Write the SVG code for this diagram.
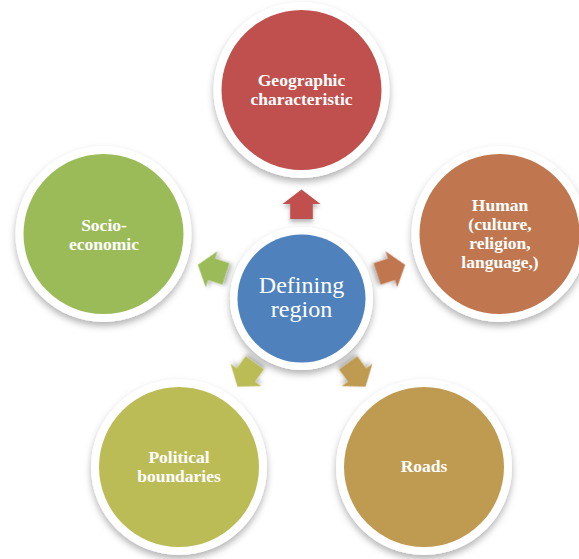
<svg xmlns="http://www.w3.org/2000/svg" width="579" height="559" viewBox="0 0 579 559">
<defs>
<filter id="sh" x="-20%" y="-20%" width="140%" height="150%">
<feDropShadow dx="0" dy="4" stdDeviation="3.5" flood-color="#000" flood-opacity="0.3"/>
</filter>
<filter id="ash" x="-40%" y="-40%" width="180%" height="180%">
<feDropShadow dx="0" dy="3" stdDeviation="2" flood-color="#000" flood-opacity="0.3"/>
</filter>
<path id="arr" d="M0,-109 L19,-94.5 L11.3,-94.5 L11.3,-79.5 L-11.3,-79.5 L-11.3,-94.5 L-19,-94.5 Z"/>
</defs>
<style>
.ring{fill:#fff;filter:url(#sh)}
.lbl{font-family:"Liberation Serif","Times New Roman",serif;font-weight:bold;font-size:17.5px;fill:#fff;text-anchor:middle}
.ctr{font-family:"Liberation Serif","Times New Roman",serif;font-size:24px;fill:#fff;text-anchor:middle}
</style>
<rect width="579" height="559" fill="#fff"/>
<g id="connectors" transform="translate(301.5,298.5)">
<use href="#arr" fill="#C0504D" filter="url(#ash)"/>
<use href="#arr" fill="#C0774F" filter="url(#ash)" transform="rotate(72)"/>
<use href="#arr" fill="#BF9B51" filter="url(#ash)" transform="rotate(144)"/>
<use href="#arr" fill="#BCBC56" filter="url(#ash)" transform="rotate(216)"/>
<use href="#arr" fill="#9BBB59" filter="url(#ash)" transform="rotate(288)"/>
</g>
<g id="node-geographic">
<circle class="ring" cx="301.5" cy="90" r="88"/>
<circle cx="301.5" cy="90" r="80" fill="#C0504D"/>
<text class="lbl" x="301.5" y="86">Geographic</text>
<text class="lbl" x="301.5" y="105">characteristic</text>
</g>
<g id="node-human">
<circle class="ring" cx="499.5" cy="234" r="88"/>
<circle cx="499.5" cy="234" r="80" fill="#C0774F"/>
<text class="lbl" x="500" y="211">Human</text>
<text class="lbl" x="500" y="230">(culture,</text>
<text class="lbl" x="500" y="249">religion,</text>
<text class="lbl" x="500" y="268">language,)</text>
</g>
<g id="node-roads">
<circle class="ring" cx="424" cy="467" r="88"/>
<circle cx="424" cy="467" r="80" fill="#BF9B51"/>
<text class="lbl" x="424" y="472">Roads</text>
</g>
<g id="node-political">
<circle class="ring" cx="179" cy="467" r="88"/>
<circle cx="179" cy="467" r="80" fill="#BCBC56"/>
<text class="lbl" x="179" y="463">Political</text>
<text class="lbl" x="179" y="482">boundaries</text>
</g>
<g id="node-socio">
<circle class="ring" cx="103.5" cy="234" r="88"/>
<circle cx="103.5" cy="234" r="80" fill="#9BBB59"/>
<text class="lbl" x="104" y="231">Socio-</text>
<text class="lbl" x="104" y="250">economic</text>
</g>
<g id="node-center">
<circle class="ring" cx="301.5" cy="298.5" r="71.5"/>
<circle cx="301.5" cy="298.5" r="64" fill="#4F81BD"/>
<text class="ctr" x="301.5" y="293">Defining</text>
<text class="ctr" x="301.5" y="317">region</text>
</g>
</svg>
